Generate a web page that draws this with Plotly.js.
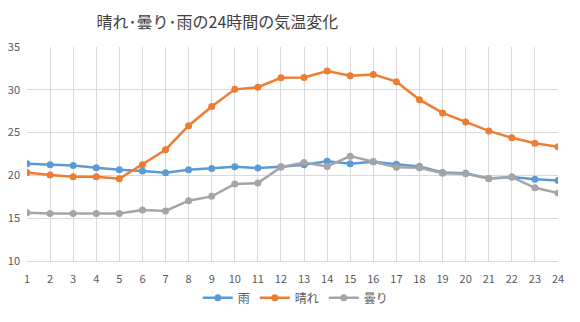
<!DOCTYPE html>
<html><head><meta charset="utf-8">
<script src="https://cdn.plot.ly/plotly-3.0.1.min.js"></script>
<style>html,body{margin:0;padding:0;background:#fff}#c{width:580px;height:322px}</style>
</head><body><div id="c"></div>
<script>
const hours = [1,2,3,4,5,6,7,8,9,10,11,12,13,14,15,16,17,18,19,20,21,22,23,24];
const rain = [21.35,21.25,21.15,20.9,20.65,20.5,20.3,20.65,20.8,21.0,20.85,21.0,21.25,21.65,21.35,21.6,21.3,21.05,20.35,20.25,19.65,19.8,19.55,19.4];
const sunny = [20.35,20.05,19.85,19.85,19.6,21.25,23.0,25.8,28.05,30.05,30.3,31.4,31.45,32.2,31.65,31.8,30.95,28.85,27.3,26.25,25.2,24.4,23.75,23.35];
const cloudy = [15.65,15.55,15.55,15.55,15.55,15.95,15.85,17.05,17.55,19.0,19.1,20.95,21.5,21.05,22.25,21.6,20.95,20.9,20.25,20.2,19.65,19.8,18.55,17.95];
const names = ['雨','晴れ','曇り'];
const colors = ['#5B9BD5','#ED7D31','#A5A5A5'];
const series = [rain, sunny, cloudy];
const traces = series.map((s,i)=>({
  x: hours, y: s, name: names[i], type:'scatter', mode:'lines+markers',
  line:{color:colors[i], width:2.5}, marker:{color:colors[i], size:7}
}));
const layout = {
  width:580, height:322,
  margin:{l:27, r:22, t:47, b:61},
  paper_bgcolor:'#fff', plot_bgcolor:'#fff',
  font:{family:'Noto Sans CJK JP, Noto Sans, sans-serif', color:'#595959', size:11},
  title:{text:'晴れ･曇り･雨の24時間の気温変化', font:{size:16, color:'#404040', family:'Noto Sans CJK JP'},
    xref:'container', x:0.375, xanchor:'center', yref:'container', y:0.93, yanchor:'middle'},
  xaxis:{range:[1,24], tickvals:hours, ticktext:hours.map(String), showgrid:true, gridcolor:'#D9D9D9',
    zeroline:false, showline:true, linecolor:'#D9D9D9', ticks:'', ticklen:0, ticklabelstandoff:8,
    tickfont:{size:11, color:'#595959'}},
  yaxis:{range:[10,35], dtick:5, showgrid:true, gridcolor:'#D9D9D9', zeroline:false, showline:false,
    ticks:'', ticklabelstandoff:6, tickfont:{size:11, color:'#595959'}},
  legend:{orientation:'h', xref:'container', x:0.51, xanchor:'center', yref:'container', y:0.075, yanchor:'middle',
    font:{size:12, color:'#595959'}, itemwidth:30, tracegroupgap:0},
  showlegend:true
};
Plotly.newPlot('c', traces, layout, {staticPlot:true, displayModeBar:false});
</script></body></html>
